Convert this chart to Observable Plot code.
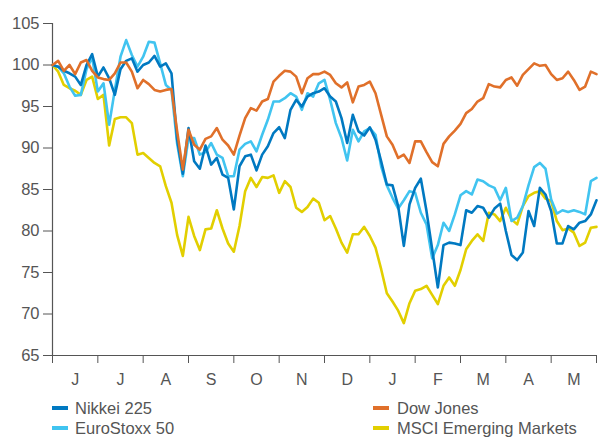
<!DOCTYPE html>
<html>
<head>
<meta charset="utf-8">
<script src="https://cdn.jsdelivr.net/npm/d3@7"></script>
<script src="https://cdn.jsdelivr.net/npm/@observablehq/plot@0.6"></script>
<style>
  body { margin: 0; background: #fff; font-family: "Liberation Sans", Arial, sans-serif; }
  #wrap { position: relative; width: 598px; height: 439px; overflow: hidden; }
  #chart { position: absolute; left: 0; top: 0; }
  .lg { position: absolute; display: flex; align-items: center; font-size: 16.5px; line-height: 18px; height: 18px; color: #555; white-space: nowrap; }
  .sw { width: 16px; height: 4px; margin-right: 7px; }
</style>
</head>
<body>
<div id="wrap">
  <div id="chart"></div>
  <div class="lg" style="left:52px;top:399px"><span class="sw" style="background:#0079C1"></span>Nikkei 225</div>
  <div class="lg" style="left:52px;top:419px"><span class="sw" style="background:#41C4F0"></span>EuroStoxx 50</div>
  <div class="lg" style="left:373px;top:399px"><span class="sw" style="background:#E0702A;margin-right:8px"></span>Dow Jones</div>
  <div class="lg" style="left:373px;top:419px"><span class="sw" style="background:#E2CF00;margin-right:8px"></span>MSCI Emerging Markets</div>
</div>
<script>
// Month labels (June to May), sampled every 1/8 month
const months = ["J", "J", "A", "S", "O", "N", "D", "J", "F", "M", "A", "M"];
const yTicks = [65, 70, 75, 80, 85, 90, 95, 100, 105];
const stepsPerMonth = 8;

const dowJones = [100, 100.5, 99.3, 100, 98.9, 100.3, 100.6, 99.3, 98.5, 98.3, 98.2, 99, 100.3, 100.3, 99.2, 97.2, 98.2, 97.7, 97, 96.8, 97, 97.1, 92, 87.4, 92.2, 90.4, 89.8, 91.1, 91.4, 92.4, 91, 90.3, 89.2, 91.5, 93.6, 94.8, 94.5, 95.6, 95.9, 98, 98.7, 99.3, 99.2, 98.6, 96.6, 98.4, 98.9, 98.9, 99.2, 98.8, 97.8, 97.3, 97.9, 95.5, 97.4, 97.6, 98, 96.6, 94, 91.4, 90.4, 88.8, 89.2, 88.2, 90.8, 90.8, 89.5, 88.3, 87.8, 90.5, 91.4, 92.1, 92.9, 94.2, 94.7, 95.6, 96, 97.7, 97.4, 97.3, 98.2, 98.5, 97.5, 98.8, 99.5, 100.2, 99.9, 100, 98.9, 98.2, 98.4, 99.2, 98.2, 97, 97.4, 99.2, 98.9];

const nikkei = [100, 99.8, 99.3, 99, 98.6, 97.6, 100, 101.3, 98.6, 99.7, 98.4, 96.4, 99.5, 100.5, 100.8, 99.2, 100, 100.3, 101.1, 99.8, 100.2, 99, 91, 86.9, 92.4, 88.4, 87.5, 90.3, 88, 88.8, 86.8, 86.4, 82.6, 87.8, 89, 89.2, 87.3, 89.2, 90.2, 91.8, 92.5, 91.2, 94.6, 95.8, 95, 96.2, 96.6, 96.8, 97.2, 96.2, 95.6, 93.6, 90.6, 94, 92, 91.5, 92.5, 91, 88.4, 85.6, 85.5, 83, 78.2, 83.2, 85.2, 86.3, 82.4, 77.8, 73.2, 78.3, 78.6, 78.5, 78.3, 82.5, 82.2, 83, 82.8, 81.6, 82.7, 83.3, 80, 77.1, 76.5, 77.4, 82.4, 80.6, 85.2, 84.4, 82.4, 78.5, 78.5, 80.6, 80.2, 81, 81.2, 82, 83.7];

const euroStoxx = [100, 99.8, 99, 97.4, 96.3, 96.4, 99.5, 100.9, 96.8, 97.8, 92.8, 97, 101, 103, 101.2, 99.8, 101, 102.8, 102.7, 100.2, 97.6, 97, 90.5, 86.6, 91.2, 91.2, 89.2, 89.5, 90.6, 89.2, 88.8, 86.6, 86.6, 89.8, 90.5, 90.8, 89.6, 91.6, 93.4, 95.6, 95.6, 96, 96.6, 96.2, 94.6, 96.6, 96.2, 97.8, 98.2, 95.8, 93, 91.2, 88.5, 92.2, 90.8, 92, 92.4, 91.6, 87.8, 85.5, 84, 82.7, 83.7, 84.8, 84.6, 82.2, 80.8, 76.7, 78.3, 81, 80, 82, 84.3, 84.8, 84.4, 86.2, 86, 85.5, 85.2, 83.7, 85.2, 81.2, 81.6, 83, 85.5, 87.7, 88.2, 87.5, 83.8, 82.1, 82.5, 82.3, 82.5, 82.3, 82, 86, 86.4];

const msciEM = [100, 99.2, 97.6, 97.2, 96.9, 96.4, 98.2, 98.6, 95.9, 96.4, 90.3, 93.5, 93.7, 93.7, 93, 89.2, 89.4, 88.8, 88.2, 87.8, 85.4, 83.4, 79.5, 77, 81.7, 79.4, 77.7, 80.2, 80.3, 82.5, 80.3, 78.5, 77.5, 80.6, 84.8, 86.4, 85.3, 86.5, 86.4, 86.7, 84.6, 86, 85.3, 82.8, 82.3, 82.9, 83.9, 83.4, 81.3, 81.8, 80.3, 78.6, 77.4, 79.6, 79.6, 80.5, 79.4, 78, 75.4, 72.5, 71.5, 70.4, 68.9, 71.3, 72.8, 73, 73.4, 72.3, 71.2, 73.4, 74.4, 73.4, 75.3, 77.8, 78.8, 79.6, 78.8, 82.2, 82, 81.2, 82.8, 81.4, 80.8, 83, 84.2, 84.6, 84.8, 83.9, 83.6, 81.2, 80.1, 80.3, 79.8, 78.2, 78.6, 80.4, 80.5];

const seriesNames = ["MSCI Emerging Markets", "EuroStoxx 50", "Nikkei 225", "Dow Jones"];
const seriesColors = ["#E2CF00", "#41C4F0", "#0079C1", "#E0702A"];
const seriesValues = [msciEM, euroStoxx, nikkei, dowJones];

const table = seriesValues.map((vals, k) =>
  vals.map((v, i) => ({ t: i / stepsPerMonth, v, name: seriesNames[k] }))
);

const chart = Plot.plot({
  width: 598,
  height: 392,
  marginLeft: 52,
  marginRight: 2,
  marginTop: 23,
  marginBottom: 37,
  x: { domain: [0, months.length] },
  y: { domain: [65, 105] },
  style: { fontFamily: "'Liberation Sans', Arial, sans-serif", fontSize: "16px", color: "#555", background: "#fff" },
  marks: [
    Plot.axisY({ ticks: yTicks, tickSize: 9, tickPadding: 4, label: null, fontSize: 16.5 }),
    Plot.ruleX([0], { stroke: "#555", strokeWidth: 1.2 }),
    Plot.ruleY([65], { stroke: "#555", strokeWidth: 1.2 }),
    Plot.axisX({ ticks: d3.range(months.length + 1), tickSize: 8, tickFormat: () => "", label: null }),
    Plot.axisX({ ticks: months.map((m, i) => i + 0.5), tickSize: 0, tickPadding: 18, tickFormat: (d) => months[Math.floor(d)], label: null, fontSize: 16 }),
    ...table.map((rows, k) =>
      Plot.line(rows, { x: "t", y: "v", stroke: seriesColors[k], strokeWidth: 2.6, strokeLinejoin: "round", curve: "linear" })
    )
  ]
});
document.getElementById("chart").appendChild(chart);
</script>
</body>
</html>
